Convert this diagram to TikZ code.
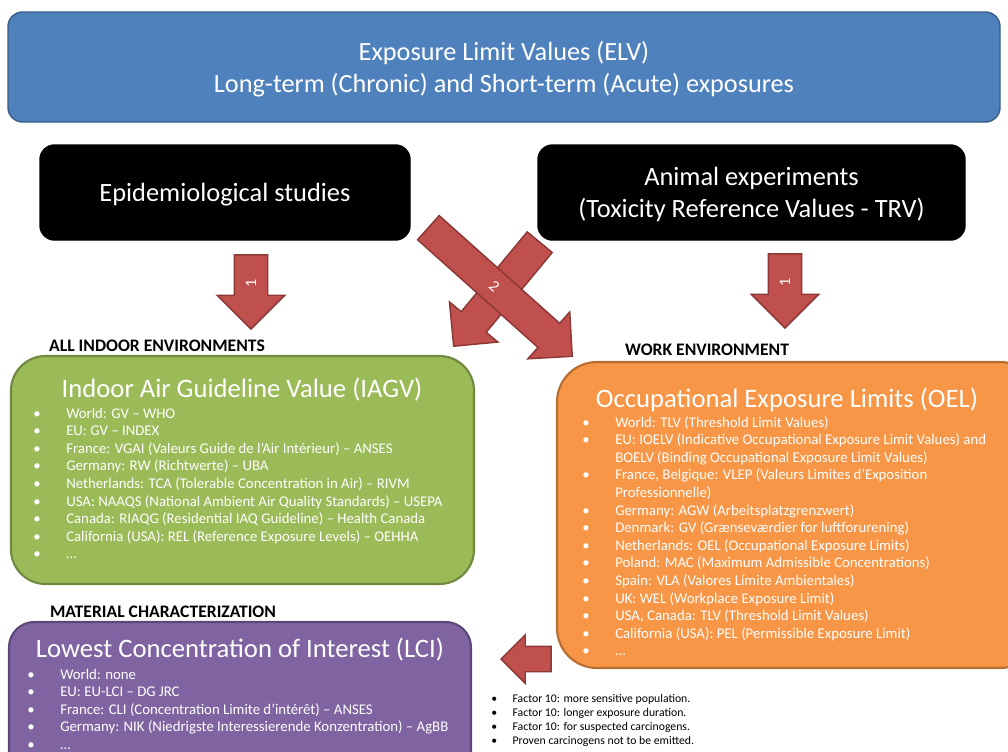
\documentclass[tikz,border=0pt]{standalone}
\usepackage{fontspec}
\setmainfont{Carlito}
\usepackage{xcolor}
\usepackage{graphicx}
\usepackage{tikz}
\usetikzlibrary{
  shapes,
  shapes.arrows,
  positioning,
  calc
}
\definecolor{elvBlue}{HTML}{4F81BD}
\definecolor{elvBlueLine}{HTML}{3A5F8B}
\definecolor{elvGreen}{HTML}{9BBB59}
\definecolor{elvGreenLine}{HTML}{71893F}
\definecolor{elvOrange}{HTML}{F79646}
\definecolor{elvOrangeLine}{HTML}{B66D31}
\definecolor{elvPurple}{HTML}{8064A2}
\definecolor{elvPurpleLine}{HTML}{5C4776}
\definecolor{elvRed}{HTML}{C0504D}
\definecolor{elvRedLine}{HTML}{8C3836}
\newcommand{\elvitem}{\makebox[24.75pt][l]{\textbullet}}
\newcommand{\elvcont}{\hspace*{24.75pt}}
\newcommand{\noteitem}{\makebox[16pt][l]{\textbullet}}
\newcommand{\arrowone}{\raisebox{0.32em}{\rotatebox{180}{1}}}
\tikzset{
  elvnode/.style={
    draw, align=center, text=white, inner sep=0pt, line width=1.1pt, text depth=0pt
  },
  headbox/.style={elvnode, fill=elvBlue, draw=elvBlueLine, rounded corners=11pt,
    font=\fontsize{19.7pt}{24pt}\selectfont},
  sourcebox/.style={elvnode, fill=black, draw=black, rounded corners=11pt,
    font=\fontsize{19.8pt}{24pt}\selectfont},
  valuebox/.style={draw, line width=1.6pt, rounded corners=26pt},
  iagvbox/.style={valuebox, fill=elvGreen, draw=elvGreenLine},
  oelbox/.style={valuebox, fill=elvOrange, draw=elvOrangeLine, rounded corners=30pt},
  lcibox/.style={valuebox, fill=elvPurple, draw=elvPurpleLine, rounded corners=19pt},
  boxtitle/.style={text=white, inner sep=0pt, font=\fontsize{20pt}{24pt}\selectfont},
  itemlist/.style={text=white, inner sep=0pt, align=left, anchor=north west,
    font=\fontsize{11.1pt}{13.2pt}\selectfont},
  notelist/.style={itemlist, text=black, font=\fontsize{8.8pt}{10.5pt}\selectfont},
  envlabel/.style={inner sep=0pt, font=\fontsize{13.2pt}{15pt}\selectfont\bfseries},
  blockarrow/.style={single arrow, draw=elvRedLine, fill=elvRed, line width=1.1pt,
    inner sep=0pt, text=white, anchor=tip, font=\fontsize{12pt}{12pt}\selectfont},
  downarrow/.style={blockarrow, rotate=-90, text height=12pt, text depth=12pt,
    minimum height=55.5pt, single arrow head extend=12.75pt},
  crossarrow/.style={blockarrow, text height=11.6pt, text depth=11.6pt,
    single arrow head extend=11.4pt}
}
\begin{document}
\begin{tikzpicture}[x=0.75pt, y=-0.75pt]
  \useasboundingbox (0,0) rectangle (1008,751);
  \clip (0,0) rectangle (1008,751);

  % sources
  \node[headbox, minimum width=744pt, minimum height=82.5pt] (elv) at (504,67)
    {Exposure Limit Values (ELV)\\Long-term (Chronic) and Short-term (Acute) exposures};
  \node[sourcebox, minimum width=277.5pt, minimum height=71.25pt] (epi) at (225,192.5)
    {Epidemiological studies};
  \node[sourcebox, minimum width=320.25pt, minimum height=71.25pt] (animal) at (751.5,192.5)
    {Animal experiments\\(Toxicity Reference Values - TRV)};

  % block arrows
  \node[downarrow] (epione) at (251,330) {\arrowone};
  \node[downarrow] (animalone) at (785,329) {\arrowone};
  \node[crossarrow, rotate=-129.6, minimum height=101.25pt] (animaltwo) at (453,347) {};
  \node[crossarrow, rotate=-41.8, minimum height=144.75pt] (epitwo) at (573,357)
    {\raisebox{-0.32em}{2}};
  \node[blockarrow, rotate=180, text height=9pt, text depth=9pt, minimum height=37.5pt,
    single arrow head extend=8.6pt] (factor) at (500,659) {};

  % indoor air
  \node[envlabel] (indoorlbl) at (157,346) {ALL INDOOR ENVIRONMENTS};
  \node[iagvbox, minimum width=347.25pt, minimum height=171pt] (iagv) at (242.5,470) {};
  \node[boxtitle] (iagvtitle) at (242,390) {Indoor Air Guideline Value (IAGV)};
  \node[itemlist] (iagvlist) at (33,405.5) {%
    \strut\elvitem World: GV – WHO\\
    \elvitem EU: GV – INDEX\\
    \elvitem France: VGAI (Valeurs Guide de l’Air Intérieur) – ANSES\\
    \elvitem Germany: RW (Richtwerte) – UBA\\
    \elvitem Netherlands: TCA (Tolerable Concentration in Air) – RIVM\\
    \elvitem USA: NAAQS (National Ambient Air Quality Standards) – USEPA\\
    \elvitem Canada: RIAQG (Residential IAQ Guideline) – Health Canada\\
    \elvitem California (USA): REL (Reference Exposure Levels) – OEHHA\\
    \elvitem …};

  % work
  \node[envlabel] (worklbl) at (707,350) {WORK ENVIRONMENT};
  \node[oelbox, minimum width=362.25pt, minimum height=229.5pt] (oel) at (798.5,515) {};
  \node[boxtitle] (oeltitle) at (787,400) {Occupational Exposure Limits (OEL)};
  \node[itemlist] (oellist) at (582,414.5) {%
    \strut\elvitem World: TLV (Threshold Limit Values)\\
    \elvitem EU: IOELV (Indicative Occupational Exposure Limit Values) and\\
    \elvcont BOELV (Binding Occupational Exposure Limit Values)\\
    \elvitem France, Belgique: VLEP (Valeurs Limites d’Exposition\\
    \elvcont Professionnelle)\\
    \elvitem Germany: AGW (Arbeitsplatzgrenzwert)\\
    \elvitem Denmark: GV (Grænseværdier for luftforurening)\\
    \elvitem Netherlands: OEL (Occupational Exposure Limits)\\
    \elvitem Poland: MAC (Maximum Admissible Concentrations)\\
    \elvitem Spain: VLA (Valores Límite Ambientales)\\
    \elvitem UK: WEL (Workplace Exposure Limit)\\
    \elvitem USA, Canada: TLV (Threshold Limit Values)\\
    \elvitem California (USA): PEL (Permissible Exposure Limit)\\
    \elvitem …};

  % material
  \node[envlabel] (materiallbl) at (163,612) {MATERIAL CHARACTERIZATION};
  \node[lcibox, minimum width=346.5pt, minimum height=126pt] (lci) at (240,706) {};
  \node[boxtitle] (lcititle) at (240,650) {Lowest Concentration of Interest (LCI)};
  \node[itemlist] (lcilist) at (27,666.5) {%
    \strut\elvitem World: none\\
    \elvitem EU: EU-LCI – DG JRC\\
    \elvitem France: CLI (Concentration Limite d’intérêt) – ANSES\\
    \elvitem Germany: NIK (Niedrigste Interessierende Konzentration) – AgBB\\
    \elvitem …};

  % factors
  \node[notelist] (factorlist) at (491,692) {%
    \strut\noteitem Factor 10: more sensitive population.\\
    \noteitem Factor 10: longer exposure duration.\\
    \noteitem Factor 10: for suspected carcinogens.\\
    \noteitem Proven carcinogens not to be emitted.};
\end{tikzpicture}
\end{document}
